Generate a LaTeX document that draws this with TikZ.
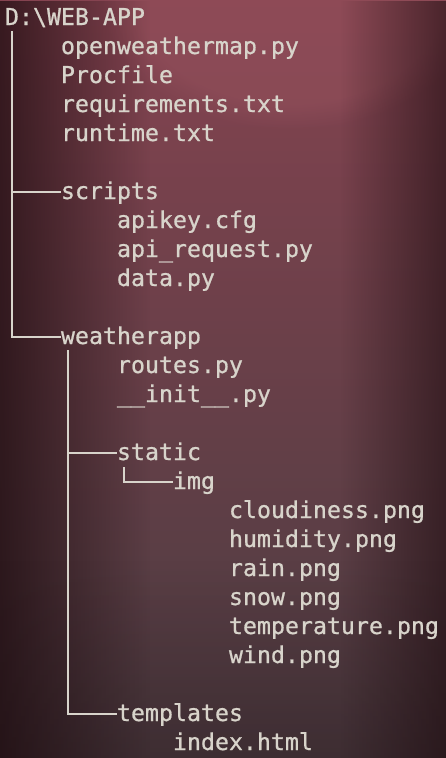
\documentclass[tikz,border=0pt]{standalone}
\usepackage{fontspec}
\newfontfamily\termfont[FakeBold=0.8]{DejaVu Sans Mono}
\usetikzlibrary{fadings}
\definecolor{bgtop}{HTML}{854350}
\definecolor{bgbot}{HTML}{4B3C41}
\definecolor{bgedge}{HTML}{1E0C10}
\definecolor{bglight}{HTML}{9C5661}
\definecolor{termtext}{HTML}{D8D4CB}
\tikzset{
  item/.style={anchor=base west, inner sep=0pt, outer sep=0pt, text=termtext,
    font=\termfont\fontsize{23.25}{29}\selectfont},
  tree/.style={draw=termtext, line width=2pt}
}
\begin{document}
\begin{tikzpicture}[x=1pt,y=-1pt]
\useasboundingbox (0,0) rectangle (446,758);
% background
\shade[top color=bgtop, bottom color=bgbot] (0,0) rectangle (446,758);
\fill[bglight, path fading=circle with fuzzy edge 20 percent, opacity=0.4] (290,0) ellipse (190 and 130);
\fill[bgedge, path fading=east, opacity=0.75] (0,0) rectangle (150,758);
\fill[bgedge, path fading=west, opacity=0.6] (340,0) rectangle (446,758);
\fill[bgedge, path fading=north, opacity=0.3] (0,560) rectangle (446,758);
% text
\node[item] (root)     at (5,25)  {D:\textbackslash WEB-APP};
\node[item] (owm)      at (61,54) {openweathermap.py};
\node[item] (procfile) at (61,83) {Procfile};
\node[item] (req)      at (61,112) {requirements.txt};
\node[item] (runtime)  at (61,141) {runtime.txt};
\node[item] (scripts)  at (61,199) {scripts};
\node[item] (apikey)   at (117,228) {apikey.cfg};
\node[item] (apireq)   at (117,257) {api\_request.py};
\node[item] (data)     at (117,286) {data.py};
\node[item] (weatherapp) at (61,344) {weatherapp};
\node[item] (routes)   at (117,373) {routes.py};
\node[item] (init)     at (117,402) {\_\_init\_\_.py};
\node[item] (static)   at (117,460) {static};
\node[item] (img)      at (173,489) {img};
\node[item] (cloud)    at (229,518) {cloudiness.png};
\node[item] (humid)    at (229,547) {humidity.png};
\node[item] (rain)     at (229,576) {rain.png};
\node[item] (snow)     at (229,605) {snow.png};
\node[item] (temp)     at (229,634) {temperature.png};
\node[item] (wind)     at (229,663) {wind.png};
\node[item] (templates) at (117,721) {templates};
\node[item] (index)    at (173,750) {index.html};
% tree lines
\coordinate (rootstem) at (12,31);
\coordinate (wastem) at (68,350);
\coordinate (ststem) at (124,467);
\draw[tree] (rootstem) |- ([yshift=7.5pt]scripts.base west);
\draw[tree] (rootstem) |- ([yshift=7.5pt]weatherapp.base west);
\draw[tree] (wastem) |- ([yshift=7.5pt]static.base west);
\draw[tree] (wastem) |- ([yshift=7.5pt]templates.base west);
\draw[tree] (ststem) |- ([yshift=7.5pt]img.base west);
\end{tikzpicture}
\end{document}
